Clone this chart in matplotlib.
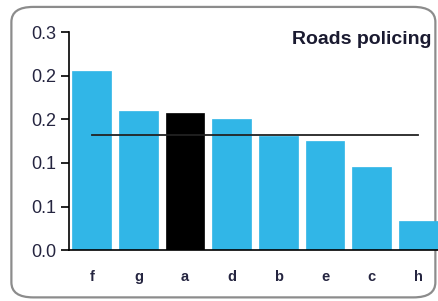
import matplotlib
matplotlib.use('Agg')
import matplotlib.pyplot as plt
from matplotlib.patches import FancyBboxPatch

plt.rcParams['font.family'] = ['Liberation Sans', 'DejaVu Sans']

categories = ['f', 'g', 'a', 'd', 'b', 'e', 'c', 'h']
values = [0.205, 0.160, 0.157, 0.150, 0.131, 0.125, 0.0955, 0.033]
highlight = 'a'
average = 0.132
yticks = [0.0, 0.05, 0.10, 0.15, 0.20, 0.25]
ytick_labels = ['0.0', '0.1', '0.1', '0.2', '0.2', '0.3']

fig = plt.figure(figsize=(4.38, 3.01), dpi=100)

# rounded frame around the panel, kept behind the axes
frame = FancyBboxPatch((0.026, 0.012), 0.968, 0.965, boxstyle='round,pad=0,rounding_size=0.05',
                       transform=fig.transFigure, facecolor='white', edgecolor='#8c8c8c', lw=1.6,
                       zorder=-1)
fig.patches.append(frame)

ax = fig.add_axes([0.158, 0.169, 0.842, 0.724])
ax.patch.set_alpha(0)

colors = ['black' if c == highlight else '#31b6e7' for c in categories]
x = range(len(categories))
ax.bar(x, values, width=0.83, color=colors, edgecolor=colors, lw=0.5)
ax.plot([0, len(categories) - 1], [average, average], color='#222222', lw=1.3)

ax.set_xlim(-0.483, 7.42)
ax.set_ylim(0, 0.25)
ax.set_yticks(yticks)
ax.set_yticklabels(ytick_labels, fontsize=13, color='#252540')
ax.set_xticks(list(x))
ax.set_xticklabels(categories, fontsize=10.5, fontweight='bold', color='#252540')
ax.tick_params(axis='x', length=0, pad=14)
ax.tick_params(axis='y', direction='out', length=6, width=1.2, pad=3)
for s in ['top', 'right']:
    ax.spines[s].set_visible(False)
ax.spines['left'].set_linewidth(1.2)
ax.spines['bottom'].set_linewidth(1.2)

fig.text(0.986, 0.868, 'Roads policing', ha='right', va='center',
         fontsize=14, fontweight='bold', color='#1a1a30')

fig.savefig('out.png', dpi=100)
